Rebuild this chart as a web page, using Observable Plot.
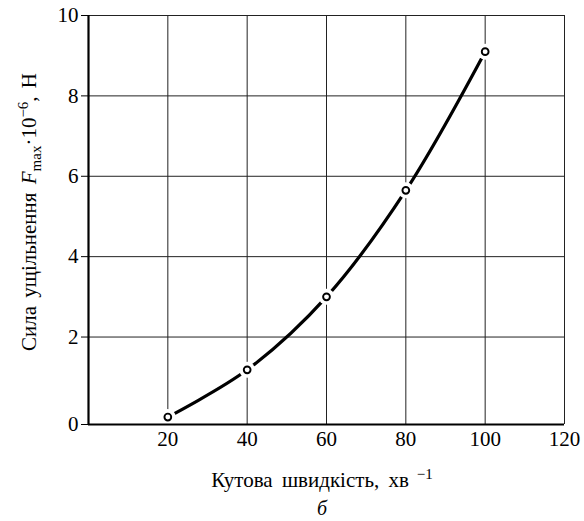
<!DOCTYPE html>
<html>
<head>
<meta charset="utf-8">
<script src="https://cdn.jsdelivr.net/npm/d3@7"></script>
<script src="https://cdn.jsdelivr.net/npm/@observablehq/plot@0.6"></script>
<style>
  html, body { margin: 0; padding: 0; background: #fff; }
  #chart svg { display: block; }
</style>
</head>
<body>
<div id="chart"></div>
<script>
// Data
const speeds = [20, 40, 60, 80, 100];          // Кутова швидкість, хв⁻¹
const forces = [0.17, 1.25, 3.0, 5.65, 9.1];   // F_max·10⁻⁶, Н
const xTicks = [20, 40, 60, 80, 100, 120];
const yTicks = [0, 2, 4, 6, 8, 10];
const xGrid = [20, 40, 60, 80, 100];
const yGrid = [2, 4, 6, 8];

const data = speeds.map((s, i) => ({x: s, y: forces[i]}));

const W = 584, H = 521;
const font = "Liberation Serif, Times New Roman, serif";

// the original figure's 0–2 band is slightly taller than the others
const stretch = 1.088;
const yT = v => (v >= 2 ? v : 2 - (2 - v) * stretch);

const plot = Plot.plot({
  width: W,
  height: H,
  marginLeft: 88,
  marginRight: 20,
  marginTop: 15,
  marginBottom: 97,
  style: {fontFamily: font, fontSize: "21px", color: "#000", background: "#fff"},
  x: {domain: [0, 120], label: null},
  y: {transform: yT, domain: [yT(0), 10], label: null},
  marks: [
    Plot.ruleX(xGrid, {stroke: "#222", strokeWidth: 1}),
    Plot.ruleY(yGrid, {stroke: "#222", strokeWidth: 1}),
    Plot.ruleY([10], {stroke: "#222", strokeWidth: 1}),
    Plot.ruleX([120], {stroke: "#222", strokeWidth: 1}),
    Plot.line(data, {x: "x", y: "y", curve: "catmull-rom", stroke: "#000", strokeWidth: 3.2}),
    Plot.dot(data, {x: "x", y: "y", r: 8, fill: "#fff", stroke: "none"}),
    Plot.dot(data, {x: "x", y: "y", r: 3.4, fill: "#fff", stroke: "#000", strokeWidth: 1.9}),
    Plot.ruleX([0], {stroke: "#000", strokeWidth: 2.2}),
    Plot.ruleY([0], {stroke: "#000", strokeWidth: 2.2}),
    Plot.axisY(yTicks, {tickSize: 7, tickPadding: 3, stroke: "#000", strokeWidth: 1, fontSize: 21, tickFormat: d => String(d)}),
    Plot.axisX(xTicks, {tickSize: 0, tickPadding: 7, fontSize: 21, tickFormat: d => String(d)})
  ]
});

document.getElementById("chart").appendChild(plot);

const svg = d3.select(plot);

const xt = svg.append("text")
  .attr("x", 322).attr("y", 487)
  .attr("text-anchor", "middle")
  .attr("font-family", font).attr("font-size", 21).attr("word-spacing", 4).attr("fill", "#000");
xt.append("tspan").text("Кутова швидкість, хв");
xt.append("tspan").attr("dy", -8).attr("font-size", 15).text(" −1");

svg.append("text")
  .attr("x", 322).attr("y", 515)
  .attr("text-anchor", "middle")
  .attr("font-family", font).attr("font-size", 20).attr("font-style", "italic").attr("fill", "#000")
  .text("б");

const yt = svg.append("text")
  .attr("transform", "translate(36,212) rotate(-90)")
  .attr("text-anchor", "middle")
  .attr("font-family", font).attr("font-size", 21).attr("word-spacing", 3).attr("fill", "#000");
yt.append("tspan").text("Сила ущільнення ");
yt.append("tspan").attr("font-style", "italic").text("F");
yt.append("tspan").attr("dy", 5).attr("font-size", 15).text("max");
yt.append("tspan").attr("dy", -5).text("·10");
yt.append("tspan").attr("dy", -8).attr("font-size", 15).text("−6");
yt.append("tspan").attr("dy", 8).text(", Н");
</script>
</body>
</html>
